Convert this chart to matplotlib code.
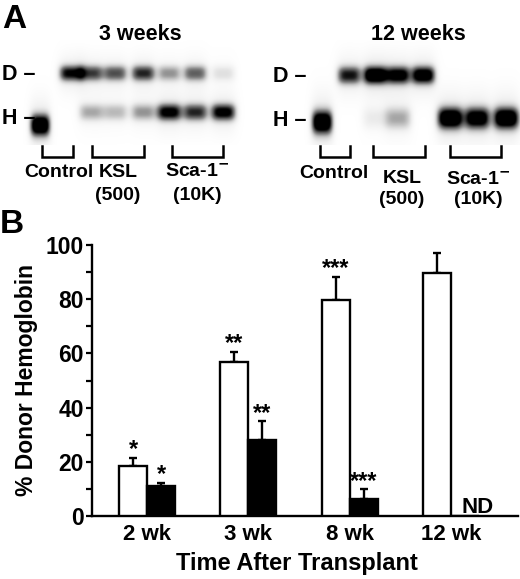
import matplotlib
matplotlib.use('Agg')
import matplotlib.pyplot as plt
import numpy as np

plt.rcParams['font.family'] = ['Liberation Sans', 'DejaVu Sans']
plt.rcParams['font.weight'] = 'bold'

# ---- panel B data ----
weeks = ['2 wk', '3 wk', '8 wk', '12 wk']
ksl_mean = [18.6, 57.0, 79.7, 89.5]
ksl_err = [2.9, 3.6, 8.6, 7.7]
sca_mean = [11.1, 28.0, 6.4, np.nan]
sca_err = [1.2, 7.0, 3.4, np.nan]
ksl_stars = ['*', '**', '***', '']
sca_stars = ['*', '**', '***', '']

# ---- panel A data: band intensity per lane (0 = none, 1 = saturated) ----
D_3wk = [0.0, 0.85, 0.7, 0.65, 0.75, 0.45, 0.6, 0.2]
H_3wk = [1.1, 0.0, 0.4, 0.35, 0.45, 0.9, 0.75, 0.9]
D_12wk = [0.0, 0.8, 1.1, 0.95, 1.0, 0.0, 0.0, 0.0]
H_12wk = [1.1, 0.0, 0.15, 0.4, 0.0, 1.1, 1.0, 1.1]

# layout of gels (pixels)
lanes_3wk = [40, 71, 91, 115, 143, 169, 195, 223]
lanes_12wk = [322, 349, 375, 398, 423, 450, 477, 506]

W, H = 520, 579
fig = plt.figure(figsize=(W / 100, H / 100), dpi=100)
fig.patch.set_facecolor('white')

# overlay in pixel coords for panel A
ov = fig.add_axes([0, 0, 1, 1])
ov.set_xlim(0, W)
ov.set_ylim(H, 0)
ov.axis('off')

gx = np.arange(0, W, 0.5)
gy = np.arange(40, 145, 0.5)
X, Y = np.meshgrid(gx, gy)
img = np.zeros_like(X)


def band(cx, cy, amp, sx, sy):
    if amp <= 0:
        return 0
    core = np.exp(-(np.abs(X - cx) / sx) ** 4) * np.exp(-(np.abs(Y - cy) / sy) ** 2.4)
    halo = np.exp(-(np.abs(X - cx) / (sx * 1.1)) ** 3) * np.exp(-((Y - cy) / (sy * 2.4)) ** 2)
    return amp * core + 0.2 * amp * halo


for i, cx in enumerate(lanes_3wk):
    img += band(cx, 73, D_3wk[i], 12, 8)
    if i == 0:
        img += band(cx, 125, H_3wk[i], 10, 11)
    else:
        img += band(cx, 112, H_3wk[i], 12.5, 8.5)

for i, cx in enumerate(lanes_12wk):
    img += band(cx, 75, D_12wk[i], 12, 9)
    if i == 0:
        img += band(cx, 122, H_12wk[i], 10.5, 12)
    else:
        img += band(cx, 118, H_12wk[i], 13, 11)

img = np.clip(img, 0, 1) ** 1.1
ov.imshow(img, cmap='Greys', vmin=0, vmax=1, extent=(0, W, 145, 40),
          aspect='auto', interpolation='bilinear', zorder=0)
ov.set_xlim(0, W)
ov.set_ylim(H, 0)

ov.text(2, 28, 'A', fontsize=24, fontweight='bold', va='baseline')
ov.text(0, 233, 'B', fontsize=24, fontweight='bold', va='baseline')
ov.text(140, 40, '3 weeks', fontsize=15.5, ha='center', va='baseline')
ov.text(418, 40, '12 weeks', fontsize=15.5, ha='center', va='baseline')
for x0, yd, yh in [(2, 75, 118), (273, 77, 121)]:
    ov.text(x0, yd, 'D –', fontsize=15.5, va='center')
    ov.text(x0, yh, 'H –', fontsize=15.5, va='center')


def bracket(x1, x2, y1=146, y2=157):
    ov.plot([x1, x1, x2, x2], [y1, y2, y2, y1], color='black', lw=1.8,
            solid_joinstyle='miter')


for x1, x2 in [(42, 73), (92, 144), (172, 223), (320, 350), (373, 425), (450, 501)]:
    bracket(x1, x2)

fs_a = 14
ov.text(59, 177, 'Control', fontsize=fs_a, ha='center', va='baseline')
ov.text(118, 177, 'KSL', fontsize=fs_a, ha='center', va='baseline')
ov.text(118, 200, '(500)', fontsize=fs_a, ha='center', va='baseline')
ov.text(197, 177, 'Sca-1$^{\\mathbf{-}}$', fontsize=fs_a, ha='center', va='baseline')
ov.text(197, 200, '(10K)', fontsize=fs_a, ha='center', va='baseline')
ov.text(334, 178, 'Control', fontsize=fs_a, ha='center', va='baseline')
ov.text(402, 183, 'KSL', fontsize=fs_a, ha='center', va='baseline')
ov.text(402, 204, '(500)', fontsize=fs_a, ha='center', va='baseline')
ov.text(478, 185, 'Sca-1$^{\\mathbf{-}}$', fontsize=fs_a, ha='center', va='baseline')
ov.text(478, 204, '(10K)', fontsize=fs_a, ha='center', va='baseline')

# ---- panel B ----
ax = fig.add_axes([92 / W, 63 / H, 426 / W, 271 / H])
x = np.arange(len(weeks))
bw = 0.276
lw = 1.7
ax.bar(x - bw / 2, ksl_mean, bw, color='white', edgecolor='black', linewidth=lw, zorder=3)
ax.bar(x + bw / 2, np.nan_to_num(sca_mean), bw, color='black', edgecolor='black',
       linewidth=lw, zorder=3)
ax.errorbar(x - bw / 2, ksl_mean, yerr=[np.zeros(4), ksl_err], fmt='none',
            ecolor='black', elinewidth=1.7, capsize=3, capthick=1.7, zorder=2)
ax.errorbar(x + bw / 2, sca_mean, yerr=[np.zeros(4), sca_err], fmt='none',
            ecolor='black', elinewidth=1.7, capsize=3, capthick=1.7, zorder=2)

for i in range(len(weeks)):
    if ksl_stars[i]:
        ax.annotate(ksl_stars[i], (x[i] - bw / 2, ksl_mean[i] + ksl_err[i]),
                    xytext=(0, 1), textcoords='offset points', ha='center',
                    va='baseline', fontsize=17)
    if sca_stars[i]:
        ax.annotate(sca_stars[i], (x[i] + bw / 2, sca_mean[i] + sca_err[i]),
                    xytext=(0, 1), textcoords='offset points', ha='center',
                    va='baseline', fontsize=17)
ax.text(x[3] + bw / 2 + 0.12, 1.2, 'ND', fontsize=16, ha='center', va='baseline')

ax.set_xlim(-0.543, 3.661)
ax.set_ylim(0, 100)
ax.set_xticks(x)
ax.set_xticklabels(weeks, fontsize=16)
ax.set_yticks(np.arange(0, 101, 20))
ax.set_yticks(np.arange(10, 100, 20), minor=True)
ax.tick_params(axis='y', which='both', direction='out', length=4, width=1.6,
               labelsize=16.5, pad=2)
ax.tick_params(axis='x', length=0, pad=6)
for lab in ax.get_yticklabels() + ax.get_xticklabels():
    lab.set_fontweight('bold')
ax.spines['top'].set_visible(False)
ax.spines['right'].set_visible(False)
ax.spines['left'].set_linewidth(1.7)
ax.spines['bottom'].set_linewidth(1.7)
ax.set_ylabel('% Donor Hemoglobin', fontsize=16.5, fontweight='bold', labelpad=5)
ax.set_xlabel('Time After Transplant', fontsize=17, fontweight='bold')
ax.xaxis.set_label_coords((297 - 92) / 426, -(552 - 516) / 271)
ax.xaxis.label.set_va('top')

fig.savefig('out.png', dpi=100, facecolor='white')
